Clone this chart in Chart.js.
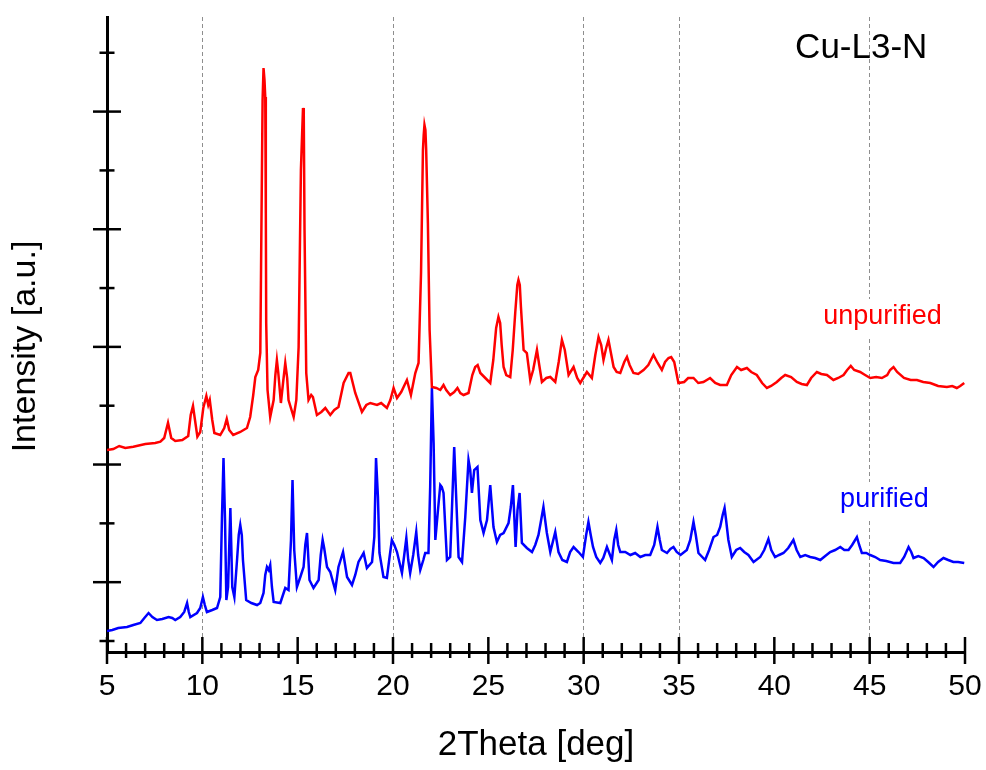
<!DOCTYPE html>
<html>
<head>
<meta charset="utf-8">
<script src="https://cdn.jsdelivr.net/npm/chart.js@4.4.1/dist/chart.umd.min.js"></script>
<style>
  html, body { margin: 0; padding: 0; background: #fff; }
  #wrap { width: 986px; height: 770px; }
</style>
</head>
<body>
<div id="wrap"><canvas id="xrd"></canvas></div>
<script>
// [2theta (deg), intensity (a.u.)] — stacked patterns, purified sits lower
const unpurified = [
  [5.0,4247],[5.33,4264],[5.64,4315],[5.96,4281],[6.38,4303],[7.01,4349],[7.53,4366],[7.80,4388],
  [8.0,4451],[8.20,4711],[8.37,4451],[8.58,4400],[8.95,4417],[9.26,4485],[9.39,4842],[9.51,4995],
  [9.60,4791],[9.74,4473],[9.89,4553],[10.05,4961],[10.21,5165],[10.31,5012],[10.39,5097],[10.52,4757],
  [10.63,4536],[10.94,4502],[11.15,4621],[11.28,4774],[11.41,4587],[11.62,4502],[11.99,4553],[12.34,4621],
  [12.51,4808],[12.67,5182],[12.78,5488],[12.93,5607],[13.04,5896],[13.08,7358],[13.16,10197],[13.21,10741],
  [13.26,10537],[13.30,10248],[13.33,8276],[13.35,6406],[13.42,5267],[13.56,4808],[13.74,5097],[13.83,5522],
  [13.91,5777],[13.98,5573],[14.12,5046],[14.25,5437],[14.35,5726],[14.45,5471],[14.52,5097],[14.79,4808],
  [14.93,5097],[15.05,5998],[15.17,9007],[15.28,10061],[15.32,9942],[15.36,7987],[15.45,5556],[15.57,5097],
  [15.71,5182],[15.80,5148],[16.01,4842],[16.24,4893],[16.45,4961],[16.71,4842],[16.92,4927],[17.14,4978],
  [17.41,5386],[17.67,5556],[17.76,5556],[18.02,5216],[18.37,4893],[18.60,5012],[18.81,5046],[19.16,5012],
  [19.38,5046],[19.68,4961],[19.86,5097],[20.03,5301],[20.21,5131],[20.43,5233],[20.73,5437],[20.94,5182],
  [21.17,5556],[21.34,5726],[21.47,7256],[21.57,9347],[21.61,9602],[21.65,9772],[21.70,9687],[21.74,9347],
  [21.83,8106],[21.92,6287],[22.04,5318],[22.27,5301],[22.48,5267],[22.65,5352],[22.79,5267],[23.0,5182],
  [23.21,5233],[23.38,5301],[23.53,5216],[23.70,5182],[23.96,5216],[24.16,5522],[24.31,5658],[24.44,5692],
  [24.58,5556],[24.84,5471],[25.10,5386],[25.26,5777],[25.41,6321],[25.53,6508],[25.62,6406],[25.70,6032],
  [25.80,5658],[25.94,5522],[26.15,5488],[26.28,5947],[26.41,6576],[26.52,7052],[26.58,7137],[26.65,7052],
  [26.71,6678],[26.85,5947],[27.02,5896],[27.20,5437],[27.35,5607],[27.55,5947],[27.67,5692],[27.81,5403],
  [28.04,5471],[28.25,5488],[28.51,5403],[28.69,5743],[28.86,6117],[29.01,5947],[29.21,5522],[29.47,5658],
  [29.66,5471],[29.82,5386],[30.17,5573],[30.43,5471],[30.61,5862],[30.78,6168],[30.92,6032],[31.04,5777],
  [31.18,5981],[31.30,6117],[31.42,5913],[31.57,5658],[31.73,5573],[31.92,5556],[32.13,5743],[32.27,5828],
  [32.41,5692],[32.61,5556],[32.86,5539],[33.14,5607],[33.39,5692],[33.66,5862],[33.88,5726],[34.10,5607],
  [34.27,5743],[34.45,5811],[34.59,5828],[34.75,5743],[34.97,5386],[35.27,5403],[35.48,5471],[35.76,5471],
  [36.01,5386],[36.28,5403],[36.63,5471],[36.90,5386],[37.16,5352],[37.51,5352],[37.74,5522],[38.04,5658],
  [38.26,5607],[38.56,5641],[38.79,5573],[39.08,5522],[39.36,5386],[39.61,5301],[39.83,5335],[40.13,5403],
  [40.36,5471],[40.57,5522],[40.88,5488],[41.18,5403],[41.43,5369],[41.71,5352],[41.93,5471],[42.23,5573],
  [42.46,5539],[42.76,5522],[43.10,5437],[43.35,5471],[43.63,5522],[43.82,5607],[44.01,5675],[44.19,5607],
  [44.50,5573],[44.76,5522],[45.03,5471],[45.34,5488],[45.64,5471],[45.92,5522],[46.07,5607],[46.25,5658],
  [46.44,5573],[46.80,5471],[47.15,5437],[47.48,5437],[47.81,5403],[48.18,5386],[48.59,5335],[49.05,5318],
  [49.33,5335],[49.57,5301],[49.75,5335],[49.96,5386]
];

const purified = [
  [5.0,1170],[5.28,1187],[5.59,1221],[6.05,1238],[6.38,1272],[6.75,1306],[6.96,1391],[7.18,1476],
  [7.38,1408],[7.62,1357],[7.90,1374],[8.23,1408],[8.42,1391],[8.58,1357],[8.84,1408],[9.05,1493],
  [9.20,1646],[9.29,1493],[9.37,1408],[9.72,1476],[9.89,1561],[10.03,1748],[10.13,1612],[10.24,1493],
  [10.52,1527],[10.77,1561],[10.94,1748],[11.03,3108],[11.11,4111],[11.19,3057],[11.26,1697],[11.35,1918],
  [11.47,3261],[11.57,1918],[11.68,1748],[11.82,2377],[11.91,2802],[11.99,2972],[12.07,2802],[12.13,2377],
  [12.30,1697],[12.57,1646],[12.87,1612],[13.04,1646],[13.21,1816],[13.30,2122],[13.39,2258],[13.48,2207],
  [13.56,2292],[13.65,1918],[13.74,1663],[14.09,1646],[14.35,1901],[14.52,1867],[14.65,2717],[14.73,3737],
  [14.82,2547],[14.96,1918],[15.14,2088],[15.31,2258],[15.40,2632],[15.49,2836],[15.62,2037],[15.83,1901],
  [16.10,2037],[16.21,2462],[16.31,2717],[16.39,2581],[16.54,2258],[16.71,2173],[16.97,1867],[17.14,2258],
  [17.38,2513],[17.59,2088],[17.85,1952],[18.02,2122],[18.19,2343],[18.46,2496],[18.63,2241],[18.90,2343],
  [19.02,2768],[19.11,4111],[19.21,3448],[19.29,2496],[19.50,2088],[19.68,2071],[19.80,2377],[19.94,2717],
  [20.07,2632],[20.21,2513],[20.47,2156],[20.59,2462],[20.70,2751],[20.80,2377],[20.90,2156],[21.06,2462],
  [21.22,2853],[21.32,2462],[21.43,2207],[21.59,2377],[21.69,2496],[21.86,2496],[21.95,3618],[22.04,5301],
  [22.13,4366],[22.22,2717],[22.36,3227],[22.48,3652],[22.56,3618],[22.65,3516],[22.83,2377],[23.00,2428],
  [23.09,3227],[23.21,4298],[23.32,3397],[23.44,2428],[23.62,2343],[23.79,3108],[23.96,4077],[24.05,3907],
  [24.14,3516],[24.26,3907],[24.43,3958],[24.58,3057],[24.75,2836],[24.93,3057],[25.10,3652],[25.27,2938],
  [25.45,2683],[25.62,2802],[25.80,2836],[26.06,3006],[26.18,3278],[26.29,3652],[26.43,2598],[26.53,3227],
  [26.64,3516],[26.76,2666],[27.02,2581],[27.29,2513],[27.46,2632],[27.63,2802],[27.77,3057],[27.89,3278],
  [28.07,2836],[28.25,2513],[28.51,2853],[28.68,2513],[28.88,2377],[29.12,2343],[29.29,2513],[29.47,2598],
  [29.73,2513],[29.96,2428],[30.13,2802],[30.25,3023],[30.37,2802],[30.49,2598],[30.66,2428],[30.87,2326],
  [31.03,2411],[31.22,2598],[31.48,2377],[31.60,2717],[31.71,2887],[31.81,2632],[31.92,2513],[32.18,2513],
  [32.45,2462],[32.70,2496],[32.97,2428],[33.23,2462],[33.49,2462],[33.70,2632],[33.87,2938],[33.99,2717],
  [34.10,2547],[34.37,2496],[34.55,2564],[34.71,2598],[34.88,2513],[35.08,2462],[35.41,2547],[35.59,2717],
  [35.76,3023],[35.88,2802],[36.02,2496],[36.37,2377],[36.58,2547],[36.81,2768],[37.00,2802],[37.16,2938],
  [37.29,3142],[37.39,3261],[37.47,3057],[37.59,2717],[37.77,2428],[38.00,2547],[38.21,2581],[38.42,2513],
  [38.64,2462],[38.91,2343],[39.26,2428],[39.47,2547],[39.69,2734],[39.84,2547],[40.04,2428],[40.25,2462],
  [40.48,2496],[40.73,2581],[41.00,2717],[41.17,2547],[41.36,2428],[41.62,2462],[41.88,2428],[42.14,2411],
  [42.41,2377],[42.67,2445],[42.93,2513],[43.19,2547],[43.46,2598],[43.67,2547],[43.89,2547],[44.08,2632],
  [44.33,2768],[44.45,2632],[44.59,2496],[44.82,2496],[45.03,2462],[45.29,2428],[45.55,2377],[45.87,2360],
  [46.25,2326],[46.60,2326],[46.81,2428],[47.04,2598],[47.18,2513],[47.30,2411],[47.55,2445],[47.83,2411],
  [48.07,2343],[48.35,2258],[48.59,2343],[48.87,2411],[49.12,2377],[49.39,2343],[49.64,2343],[49.96,2326]
];

const thetaRange = [5, 50];
const intensityRange = [813, 11608];
const dashedAt = [10, 20, 30, 35, 45];
const xMinorStep = 1;
const yTickStep = 1000;
const seriesNames = ['unpurified', 'purified'];
const seriesColors = ['#ff0000', '#0000ff'];

const FONT = '"Liberation Sans", Arial, Helvetica, sans-serif';

// tick marks crossing both axes, the y title and the in-plot labels
const axisMarks = {
  id: 'axisMarks',
  beforeDatasetsDraw(chart) {
    const { ctx, scales: { x, y } } = chart;
    const notes = chart.options.plugins.axisMarks.notes;
    ctx.save();
    notes.forEach(n => {
      ctx.font = n.size + 'px ' + FONT;
      const px = x.getPixelForValue(n.x);
      const py = y.getPixelForValue(n.y);
      if (n.box) {
        const w = ctx.measureText(n.text).width;
        ctx.fillStyle = '#fff';
        ctx.fillRect(px - 8, py - 25, w + 16, 39);
      }
      ctx.fillStyle = n.color;
      ctx.textAlign = 'left';
      ctx.textBaseline = 'alphabetic';
      ctx.fillText(n.text, px, py);
    });
    ctx.restore();
  },
  afterDraw(chart) {
    const { ctx, scales: { x, y }, chartArea } = chart;
    ctx.save();
    ctx.strokeStyle = '#000';
    ctx.lineWidth = 2.5;
    const axisY = chartArea.bottom;
    for (let v = thetaRange[0]; v <= thetaRange[1]; v += xMinorStep) {
      const px = x.getPixelForValue(v);
      const major = v % 5 === 0;
      ctx.beginPath();
      ctx.moveTo(px, axisY - (major ? 15 : 9));
      ctx.lineTo(px, axisY + (major ? 12 : 6));
      ctx.stroke();
    }
    const axisX = chartArea.left;
    for (let v = yTickStep; v <= intensityRange[1]; v += yTickStep) {
      const py = y.getPixelForValue(v);
      const major = (v / yTickStep) % 2 === 0;
      const half = major ? 14 : 7.5;
      ctx.beginPath();
      ctx.moveTo(axisX - half, py);
      ctx.lineTo(axisX + half, py);
      ctx.stroke();
    }
    // y axis title
    ctx.translate(26, (chartArea.top + chartArea.bottom) / 2 + 12);
    ctx.rotate(-Math.PI / 2);
    ctx.fillStyle = '#000';
    ctx.font = '34px ' + FONT;
    ctx.textAlign = 'center';
    ctx.textBaseline = 'middle';
    ctx.fillText('Intensity [a.u.]', 0, 0);
    ctx.restore();
  }
};

const toPoints = arr => arr.map(([t, i]) => ({ x: t, y: i }));

new Chart(document.getElementById('xrd'), {
  type: 'line',
  data: {
    datasets: [unpurified, purified].map((arr, k) => ({
      label: seriesNames[k],
      data: toPoints(arr),
      borderColor: seriesColors[k],
      borderWidth: 2.5,
      pointRadius: 0,
      tension: 0,
      fill: false
    }))
  },
  options: {
    responsive: true,
    maintainAspectRatio: false,
    animation: false,
    layout: { padding: { left: 0, top: 17, right: 21, bottom: 0 } },
    plugins: {
      legend: { display: false },
      tooltip: { enabled: false },
      axisMarks: {
        notes: [
          { text: 'Cu-L3-N', x: 41.09, y: 10911, color: '#000', size: 35, box: false },
          { text: 'unpurified', x: 42.56, y: 6389, color: seriesColors[0], size: 27, box: true },
          { text: 'purified', x: 43.45, y: 3278, color: seriesColors[1], size: 27, box: true }
        ]
      }
    },
    scales: {
      x: {
        type: 'linear',
        min: thetaRange[0],
        max: thetaRange[1],
        afterFit(s) {
          s.height = 118;
          // the end labels fit inside the layout padding already
          s.paddingLeft = 0;
          s.paddingRight = 0;
        },
        ticks: {
          stepSize: 5,
          color: '#000',
          maxRotation: 0,
          autoSkip: false,
          padding: 17,
          font: { family: FONT, size: 30 }
        },
        grid: {
          drawTicks: false,
          lineWidth: 1,
          color: c => (c.tick && dashedAt.includes(c.tick.value)) ? '#8e8e8e' : 'rgba(0,0,0,0)'
        },
        border: { display: true, color: '#000', width: 3, dash: [4, 3] },
        title: {
          display: true,
          text: '2Theta [deg]',
          color: '#000',
          font: { family: FONT, size: 35 },
          padding: { top: 0, bottom: 4 }
        }
      },
      y: {
        type: 'linear',
        min: intensityRange[0],
        max: intensityRange[1],
        afterFit(s) { s.width = 107; },
        ticks: { display: false, stepSize: yTickStep },
        grid: { display: false },
        border: { display: true, color: '#000', width: 3 }
      }
    }
  },
  plugins: [axisMarks]
});
</script>
</body>
</html>
